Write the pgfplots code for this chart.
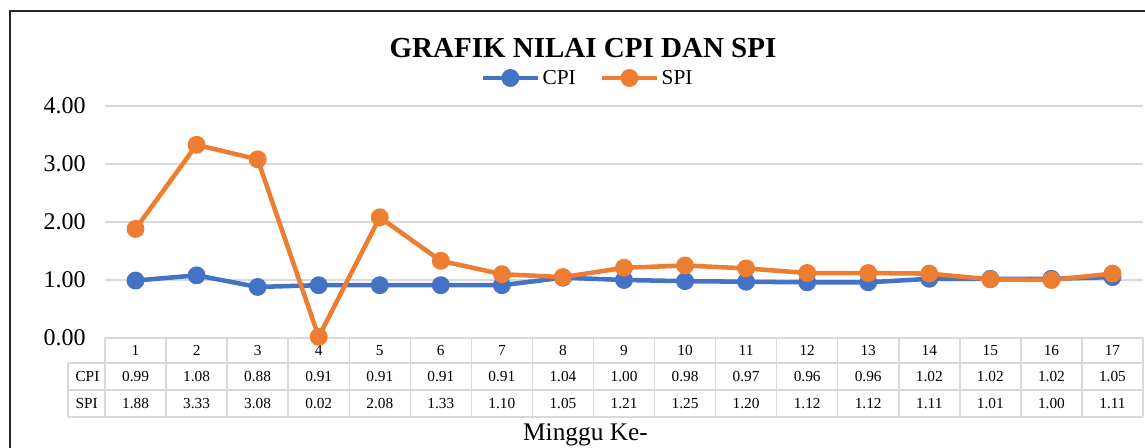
\documentclass[border=0pt]{standalone}
\usepackage{pgfplots}
\usepackage{pgfplotstable}
\pgfplotsset{compat=1.18}
\usepackage{fontspec}
\setmainfont{Liberation Serif}
\definecolor{cpic}{HTML}{4472C4}
\definecolor{spic}{HTML}{ED7D31}
\definecolor{gridc}{HTML}{D9D9D9}
\pgfplotstableread{
x CPI SPI
1 0.99 1.88
2 1.08 3.33
3 0.88 3.08
4 0.91 0.02
5 0.91 2.08
6 0.91 1.33
7 0.91 1.10
8 1.04 1.05
9 1.00 1.21
10 0.98 1.25
11 0.97 1.20
12 0.96 1.12
13 0.96 1.12
14 1.02 1.11
15 1.02 1.01
16 1.02 1.00
17 1.05 1.11
}\data
\begin{document}
\begin{tikzpicture}
\path[use as bounding box] (0,0) rectangle (858.75pt,336pt);
\draw[black!85, line width=1.3pt] (7.5pt,0) -- (7.5pt,327.75pt) -- (860pt,327.75pt);
\node[font=\fontsize{21.75}{24}\selectfont\bfseries] at (437.25pt,300pt) {GRAFIK NILAI CPI DAN SPI};
\node[font=\fontsize{19}{22}\selectfont] at (439.1pt,9.75pt) {Minggu Ke-};
\begin{axis}[
  at={(78.75pt,82.5pt)}, anchor=south west,
  scale only axis, width=778.5pt, height=174pt,
  xmin=0.5, xmax=17.5, ymin=0, ymax=4,
  xtick=\empty,
  ytick={0,1,2,3,4},
  yticklabel={\pgfmathprintnumber[fixed,fixed zerofill,precision=2]{\tick}},
  /pgf/number format/assume math mode=true,
  yticklabel style={font=\fontsize{18}{20}\selectfont, anchor=east, xshift=-11pt},
  ymajorgrids, grid style={gridc, line width=1.1pt},
  major tick length=0pt,
  axis line style={draw=none},
  clip=false,
  legend style={at={(0.4653,1.1207)}, anchor=center, draw=none, fill=none,
     legend columns=2, font=\fontsize{16}{18}\selectfont,
     inner sep=0pt, row sep=0pt,
     /tikz/every even column/.append style={column sep=16pt}},
  legend cell align=left,
  legend image code/.code={
    \draw[#1, mark=none] (0pt,0pt) -- (41pt,0pt);
    \draw[#1, draw=none] plot coordinates {(20.5pt,0pt)};
  },
  every node near coord/.append style={font=\fontsize{11.5}{13}\selectfont, anchor=center, text=black},
]
% table grid
\draw[gridc, line width=1.1pt] (axis cs:0.5,0) -- (axis cs:17.5,0);
\draw[gridc, line width=1.1pt] (axis cs:-0.106,-0.431) -- (axis cs:17.5,-0.431);
\draw[gridc, line width=1.1pt] (axis cs:-0.106,-0.897) -- (axis cs:17.5,-0.897);
\draw[gridc, line width=1.1pt] (axis cs:-0.106,-1.362) -- (axis cs:17.5,-1.362);
\draw[gridc, line width=1.1pt] (axis cs:-0.106,-0.431) -- (axis cs:-0.106,-1.362);
\pgfplotsinvokeforeach{0,...,17}{
  \draw[gridc, line width=1.1pt] (axis cs:#1+0.5,0) -- (axis cs:#1+0.5,-1.362);
}
\node[font=\fontsize{11.5}{13}\selectfont, anchor=west] at (axis cs:-0.06,-0.664) {CPI};
\node[font=\fontsize{11.5}{13}\selectfont, anchor=west] at (axis cs:-0.06,-1.129) {SPI};
% table values
\addplot[draw=none, mark=none, nodes near coords, point meta=explicit symbolic, forget plot]
  table[x=x, y expr=-0.2155, meta=x] {\data};
\addplot[draw=none, mark=none, nodes near coords, point meta=explicit symbolic, forget plot]
  table[x=x, y expr=-0.664, meta=CPI] {\data};
\addplot[draw=none, mark=none, nodes near coords, point meta=explicit symbolic, forget plot]
  table[x=x, y expr=-1.129, meta=SPI] {\data};
% series
\addplot[cpic, line width=3.4pt, line join=round, mark=*, mark size=5pt, mark options={solid, fill=cpic}]
  table[x=x, y=CPI] {\data};
\addlegendentry{CPI}
\addplot[spic, line width=3.4pt, line join=round, mark=*, mark size=5pt, mark options={solid, fill=spic}]
  table[x=x, y=SPI] {\data};
\addlegendentry{SPI}
\end{axis}
\end{tikzpicture}
\end{document}
